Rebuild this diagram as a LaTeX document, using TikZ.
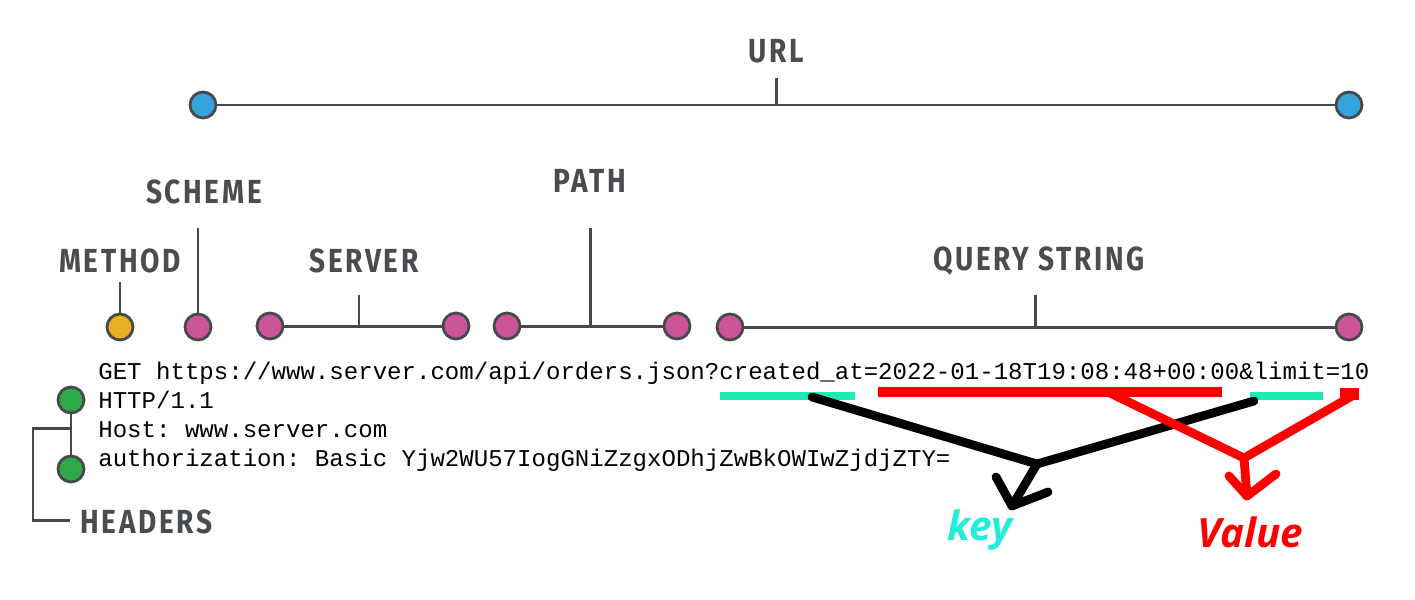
\documentclass[tikz,border=0pt]{standalone}
\usepackage{fontspec}
\setmonofont{Liberation Mono}
\newfontfamily\lblfont[FakeStretch=0.84,LetterSpace=8]{Fira Sans}
\newfontfamily\kvfont{Open Sans}
\definecolor{linegray}{HTML}{464A4D}
\definecolor{labelgray}{HTML}{4A4D50}
\definecolor{dotblue}{HTML}{35A3DC}
\definecolor{dotpink}{HTML}{CC5599}
\definecolor{dotyellow}{HTML}{E8B020}
\definecolor{dotgreen}{HTML}{2EA84A}
\definecolor{barcyan}{HTML}{1EEBB4}
\definecolor{keycyan}{HTML}{1FEFD8}
\definecolor{valred}{HTML}{FF0000}
\begin{document}
\begin{tikzpicture}[x=0.02cm,y=-0.02cm,
  dot/.style={circle, draw=linegray, line width=1.6pt, minimum size=0.52cm, inner sep=0pt},
  lbl/.style={font=\lblfont\bfseries\fontsize{19}{21}\selectfont, text=labelgray, inner sep=0pt},
  conn/.style={draw=linegray, line width=1.7pt},
  code/.style={font=\ttfamily\fontsize{13.7}{16}\selectfont, anchor=base west, inner sep=0pt},
  bar/.style={line width=4.6pt},
  pointer/.style={line width=5pt, line cap=round, line join=round},
  kv/.style={font=\kvfont\bfseries\itshape\fontsize{23}{25}\selectfont, inner sep=0pt}
]
\useasboundingbox (0,0) rectangle (1415,599);

% URL
\node[lbl] (url) at (776,51) {URL};
\node[dot, fill=dotblue] (u1) at (203,105) {};
\node[dot, fill=dotblue] (u2) at (1349,105) {};
\draw[conn] (u1) -- (u2);
\coordinate (urlb) at (776,105);
\coordinate (urlt) at (776,78);
\draw[conn] (urlb) -- (urlt);

% METHOD
\node[lbl] (method) at (120,261) {METHOD};
\node[dot, fill=dotyellow] (m1) at (120,327) {};
\coordinate (mt) at (120,282);
\draw[conn] (mt) -- (m1);

% SCHEME
\node[lbl] (scheme) at (204,192) {SCHEME};
\node[dot, fill=dotpink] (s1) at (198,327) {};
\coordinate (st) at (198,228);
\draw[conn] (st) -- (s1);

% SERVER
\node[lbl] (server) at (364,261) {SERVER};
\node[dot, fill=dotpink] (sv1) at (270,326) {};
\node[dot, fill=dotpink] (sv2) at (456,326) {};
\draw[conn] (sv1) -- (sv2);
\coordinate (svb) at (359,326);
\coordinate (svt) at (359,295);
\draw[conn] (svb) -- (svt);

% PATH
\node[lbl] (path) at (590,181) {PATH};
\node[dot, fill=dotpink] (p1) at (507,326) {};
\node[dot, fill=dotpink] (p2) at (677,326) {};
\draw[conn] (p1) -- (p2);
\coordinate (pb) at (590,326);
\coordinate (pt) at (590,228);
\draw[conn] (pb) -- (pt);

% QUERY STRING
\node[lbl] (query) at (1039,261) {QUERY STRING};
\node[dot, fill=dotpink] (q1) at (730,327) {};
\node[dot, fill=dotpink] (q2) at (1349,327) {};
\draw[conn] (q1) -- (q2);
\coordinate (qb) at (1035,327);
\coordinate (qt) at (1035,295);
\draw[conn] (qb) -- (qt);

% code lines
\node[code] (l1) at (98,379) {GET https://www.server.com/api/orders.json?created\_at=2022-01-18T19:08:48+00:00\&limit=10};
\node[code] (l2) at (98,408) {HTTP/1.1};
\node[code] (l3) at (98,437) {Host: www.server.com};
\node[code] (l4) at (98,466) {authorization: Basic Yjw2WU57IogGNiZzgxODhjZwBkOWIwZjdjZTY=};

% HEADERS
\node[dot, fill=dotgreen] (h1) at (71,400) {};
\node[dot, fill=dotgreen] (h2) at (71,469) {};
\draw[conn] (h1) -- (h2);
\node[lbl, anchor=west] (headers) at (80,522) {HEADERS};
\coordinate (hb1) at (71,428);
\coordinate (hb2) at (33,428);
\coordinate (hb3) at (33,520);
\coordinate (hb4) at (70,520);
\draw[conn] (hb1) -- (hb2) -- (hb3) -- (hb4);

% highlight bars
\coordinate (c1a) at (720,396); \coordinate (c1b) at (855,396);
\coordinate (c2a) at (1250,396); \coordinate (c2b) at (1323,396);
\draw[bar, barcyan] (c1a) -- (c1b);
\draw[bar, barcyan] (c2a) -- (c2b);
\coordinate (r1a) at (878,392); \coordinate (r1b) at (1222,392);
\draw[line width=5.6pt, valred] (r1a) -- (r1b);
\coordinate (r2a) at (1340,388); \coordinate (r2b) at (1359,400);
\fill[valred] (r2a) rectangle (r2b);

% key pointer
\coordinate (kA) at (812,397);
\coordinate (kB) at (1254,401);
\coordinate (kJ) at (1037,464);
\coordinate (kT) at (1012,506);
\coordinate (kL) at (996,477);
\coordinate (kR) at (1048,492);
\draw[pointer, black] (kA) -- (kJ) -- (kB);
\draw[pointer, black] (kJ) -- (kT);
\draw[pointer, black] (kL) -- (kT) -- (kR);

% value pointer
\coordinate (vA) at (1110,393);
\coordinate (vB) at (1352,396);
\coordinate (vJ) at (1244,458);
\coordinate (vT) at (1247,496);
\coordinate (vL) at (1229,476);
\coordinate (vR) at (1276,474);
\draw[pointer, valred, line cap=butt] (vA) -- (vJ) -- (vB);
\draw[pointer, valred] (vJ) -- (vT);
\draw[pointer, valred] (vL) -- (vT) -- (vR);

\node[kv, text=keycyan] (key) at (980,530) {key};
\node[kv, text=valred] (value) at (1250,532) {Value};
\end{tikzpicture}
\end{document}
